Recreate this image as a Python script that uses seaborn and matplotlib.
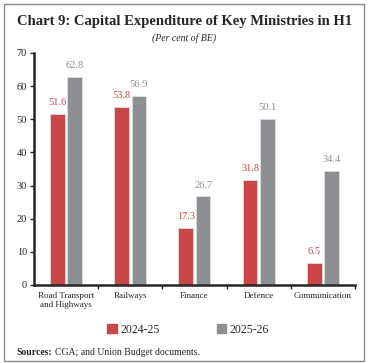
import pandas as pd
import matplotlib.pyplot as plt
import matplotlib.patches as mpatches
import seaborn as sns

# data
ministries = ["Road Transport\nand Highways", "Railways", "Finance", "Defence", "Communication"]
fy_2024_25 = [51.6, 53.8, 17.3, 31.8, 6.5]
fy_2025_26 = [62.8, 56.9, 26.7, 50.1, 34.4]
years = ["2024-25", "2025-26"]
colors = ["#C8454A", "#8E8F93"]

df = pd.DataFrame({
    "ministry": ministries * 2,
    "value": fy_2024_25 + fy_2025_26,
    "year": [years[0]] * len(ministries) + [years[1]] * len(ministries),
})

sns.set_style("ticks")
plt.rcParams["font.family"] = ["Liberation Serif", "DejaVu Serif"]

fig = plt.figure(figsize=(3.69, 3.63), dpi=100)
ax = fig.add_axes([0.092, 0.215, 0.87, 0.639])

sns.barplot(data=df, x="ministry", y="value", hue="year", palette=colors,
            saturation=1, width=0.54, gap=0.15, edgecolor="#E0E0E0",
            linewidth=0.6, ax=ax, legend=False)

# value labels
for cont, col in zip(ax.containers, colors):
    ax.bar_label(cont, fmt="%.1f", padding=5, fontsize=7.5, color=col)

ax.set_ylim(0, 70)
ax.set_xlim(-0.5, 4.5)
ax.set_yticks(range(0, 71, 10))
ax.set_xlabel("")
ax.set_ylabel("")
ax.tick_params(axis="y", labelsize=7.5, length=3, width=1, pad=2)
ax.tick_params(axis="x", which="major", length=0, labelsize=6.5, pad=5)
ax.set_xticks([0.5, 1.5, 2.5, 3.5, 4.5], minor=True)
ax.tick_params(axis="x", which="minor", length=3, width=1)
for s in ["top", "right"]:
    ax.spines[s].set_visible(False)
ax.spines["left"].set_linewidth(1.8)
ax.spines["bottom"].set_linewidth(1.8)

# legend
handles = [mpatches.Patch(color=c, label=y) for c, y in zip(colors, years)]
fig.legend(handles=handles, loc="center", bbox_to_anchor=(0.51, 0.092), ncol=2,
           frameon=False, fontsize=8.5, handlelength=0.8, handleheight=0.8,
           columnspacing=4.8, handletextpad=0.3)

fig.text(0.5, 0.94, "Chart 9: Capital Expenditure of Key Ministries in H1",
         ha="center", va="center", fontsize=10.5, fontweight="bold")
fig.text(0.5, 0.895, "(Per cent of BE)", ha="center", va="center",
         fontsize=7, style="italic")

# sources note: bold lead-in followed by regular text
src = fig.text(0.045, 0.03, "Sources:", ha="left", va="center", fontsize=7,
               fontweight="bold")
fig.canvas.draw()
bb = src.get_window_extent().transformed(fig.transFigure.inverted())
fig.text(bb.x1 + 0.008, 0.03, "CGA; and Union Budget documents.", ha="left",
         va="center", fontsize=7)

# outer frame
fig.patches.append(mpatches.Rectangle((0.012, 0.006), 0.975, 0.984,
                                      transform=fig.transFigure, fill=False,
                                      edgecolor="#888888", linewidth=1))

plt.savefig("out.png", dpi=100)
